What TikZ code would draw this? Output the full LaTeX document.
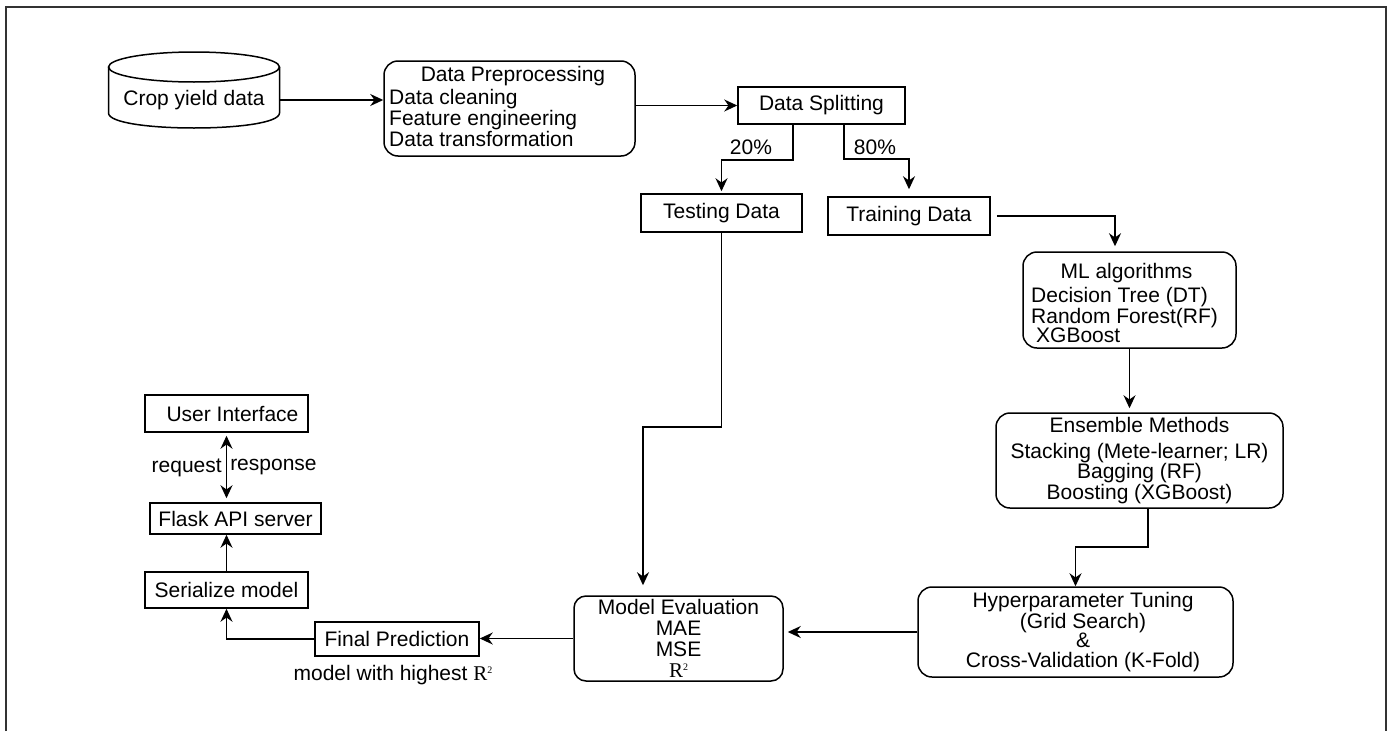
\documentclass[tikz,border=0pt]{standalone}
\usepackage{fontspec}
\setmainfont{Liberation Sans}
\newfontfamily\timesfont{Liberation Serif}
\usepackage{tikz}
\usetikzlibrary{arrows.meta, positioning}

\newcommand{\rsq}{{\timesfont R\raisebox{7pt}{\fontsize{10}{10}\selectfont 2}}}

\begin{document}
\begin{tikzpicture}[x=1pt, y=-1pt,
    every node/.style={font=\fontsize{21}{19.5}\selectfont, inner sep=0pt},
    box/.style={draw, line width=1.5pt},
    rbox/.style={box, rounded corners=14pt},
    tip/.tip={Stealth[length=13pt, width=12pt]},
    arr/.style={-tip, line width=1.5pt},
    lbl/.style={font=\fontsize{21}{19.5}\selectfont}
]
\useasboundingbox (0,0) rectangle (1392,731);
\draw[line width=2pt, black!80] (6,731) -- (6,7) -- (1386,7) -- (1386,731);

% data source
\draw[line width=1.5pt] (108.5,67) -- (108.5,113) .. controls (108.5,133) and (279.5,133) .. (279.5,113) -- (279.5,67);
\draw[line width=1.5pt] (194,67) ellipse [x radius=85.5, y radius=15];
\node[minimum width=171pt] (crop) at (194,100) {Crop yield data};

% preprocessing and split
\node[rbox, minimum width=251pt, minimum height=95pt] (prep) at (509.5,108.5) {};
\node (preptitle) at (513,76) {Data Preprocessing};
\node[anchor=west, align=left] (preplist) at (389,118) {Data cleaning\\Feature engineering\\Data transformation};
\node[box, minimum width=167pt, minimum height=37pt] (split) at (821.5,105.5) {Data Splitting\hspace{22pt}};
\node[box, minimum width=161pt, minimum height=38pt] (test) at (721.5,213) {Testing Data};
\node[box, minimum width=162pt, minimum height=38pt] (train) at (909,216) {Training Data};
\node[lbl] (p20) at (751,147) {20\%};
\node[lbl] (p80) at (875,147) {80\%};

% models
\node[rbox, minimum width=213pt, minimum height=96pt] (ml) at (1129.5,300) {};
\node (mltitle) at (1126.5,273) {ML algorithms};
\node[anchor=west, align=left] (mllist) at (1031,315) {Decision Tree (DT)\\Random Forest(RF)\\\hspace*{5pt}XGBoost};
\node[rbox, minimum width=287pt, minimum height=95pt, align=center] (ens) at (1139.5,460.5)
    {Ensemble Methods\\[6.5pt]Stacking (Mete-learner; LR)\\Bagging (RF)\\Boosting (XGBoost)};
\node[rbox, minimum width=315pt, minimum height=90pt, align=center] (hyp) at (1075.5,632)
    {\hspace*{15pt}Hyperparameter Tuning\\\hspace*{15pt}(Grid Search)\\\hspace*{15pt}\&\\\hspace*{15pt}Cross-Validation (K-Fold)};
\node[rbox, rounded corners=12pt, minimum width=209pt, minimum height=85pt, align=center] (eval) at (678.5,638.5)
    {Model Evaluation\\[1.5pt]MAE\\[1.5pt]MSE\\[1.5pt]\rsq};

% deployment
\node[box, minimum width=164pt, minimum height=34pt] (final) at (397,639) {Final Prediction};
\node[lbl, below=8pt of final, xshift=-4pt] (best) {model with highest \rsq};
\node[box, minimum width=163pt, minimum height=36pt] (ser) at (226.5,590) {Serialize model};
\node[box, minimum width=171pt, minimum height=31pt] (flask) at (235.5,518.5) {Flask API server};
\node[box, minimum width=163pt, minimum height=37pt] (ui) at (226.5,413.5) {\hspace{12pt}User Interface};

\draw[arr] (crop) -- (crop -| prep.west);
\draw[arr] (prep.east |- split) -- (split.west);
\draw[arr, shorten >=2pt] ([xshift=-28.5pt]split.south) -- ++(0,35) -| (test.north);
\draw[arr, shorten >=7pt] ([xshift=22.5pt]split.south) -- ++(0,34) -| (train.north);
\draw[arr, shorten <=6pt, shorten >=5pt] (train.east) -| ([xshift=-14.5pt]ml.north);
\draw[arr, shorten >=4pt] (ml.south) -- (ml.south |- ens.north);
\draw[arr] ([xshift=8.5pt]ens.south) -- ++(0,38) -| (hyp.north);
\draw[arr, shorten >=4pt] (hyp.west) -- (hyp.west -| eval.east);
\draw[arr, shorten >=10pt] (test.south) -- ++(0,194) -| ([xshift=-35.5pt]eval.north);
\draw[arr] (eval.west) -- (eval.west -| final.east);
\draw[arr] (final.west) -| (ser.south);
\draw[arr] (ser.north) -- (ser.north |- flask.south);
\draw[arr, tip-tip, shorten <=3pt, shorten >=4pt] (ui.south) -- (ui.south |- flask.north)
    node[midway, left=4pt] {request} node[midway, right=3pt] {response};
\end{tikzpicture}
\end{document}
